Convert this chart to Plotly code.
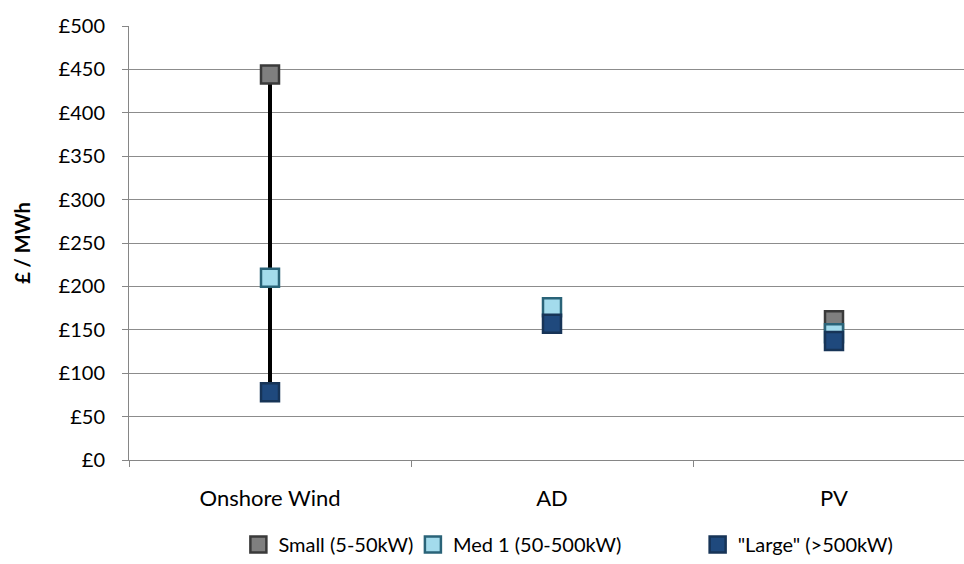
import plotly.graph_objects as go

# Levelised cost by technology and installation size (£/MWh)
technologies = ["Onshore Wind", "AD", "PV"]
small = [444, None, 161]
med1 = [210, 176, 146]
large = [78, 157, 137]

series_names = ["Small (5-50kW)", "Med 1 (50-500kW)", "\"Large\" (>500kW)"]
fill_colors = ["#7f7f7f", "#a3dbec", "#1f497d"]
edge_colors = ["#3a3a3a", "#2a6378", "#173457"]

y_ticks = list(range(0, 501, 50))

FONT = "Lato, Carlito, Calibri, sans-serif"
x_pos = list(range(len(technologies)))

fig = go.Figure()

# High-low line joining the extremes of each technology
hl_x, hl_y = [], []
for i in x_pos:
    vals = [s[i] for s in (small, med1, large) if s[i] is not None]
    hl_x += [i, i, None]
    hl_y += [max(vals), min(vals), None]
fig.add_trace(go.Scatter(x=hl_x, y=hl_y, mode="lines",
                         line=dict(color="black", width=4),
                         showlegend=False, hoverinfo="skip"))

legend_ids = ["legend", "legend2", "legend3"]
for name, vals, fc, ec, lg in zip(series_names, (small, med1, large),
                                  fill_colors, edge_colors, legend_ids):
    fig.add_trace(go.Scatter(
        x=x_pos, y=vals, mode="markers", name=name, legend=lg,
        marker=dict(symbol="square", size=18, color=fc,
                    line=dict(color=ec, width=2.5)),
    ))

span = 835 / 282.0
x_range = [-0.5, -0.5 + span]

# One legend box per series so each entry sits in its own column
legend_x = [0.131, 0.340, 0.681]
legend_common = dict(orientation="h", xanchor="left", y=-0.195, yanchor="middle",
                     font=dict(family=FONT, size=20), itemclick=False,
                     bgcolor="rgba(0,0,0,0)")

fig.update_layout(
    width=964, height=564,
    margin=dict(l=129, r=0, t=26, b=103),
    paper_bgcolor="white", plot_bgcolor="white",
    font=dict(family=FONT, size=21, color="black"),
    showlegend=True,
    legend=dict(x=legend_x[0], **legend_common),
    legend2=dict(x=legend_x[1], **legend_common),
    legend3=dict(x=legend_x[2], **legend_common),
    xaxis=dict(range=x_range, tickvals=[-0.5, 0.5, 1.5], ticktext=["", "", ""],
               ticks="outside", ticklen=6, tickcolor="#868686", tickwidth=1,
               showline=True, linecolor="#868686", linewidth=1,
               showgrid=False, zeroline=False, fixedrange=True),
    xaxis2=dict(range=x_range, overlaying="x", side="bottom",
                tickvals=x_pos, ticktext=technologies, ticks="",
                ticklabelstandoff=23,
                showline=False, showgrid=False, zeroline=False,
                tickfont=dict(family=FONT, size=22)),
    yaxis=dict(range=[0, 500], tickvals=y_ticks, ticktext=[f"£{v}" for v in y_ticks],
               ticks="outside", ticklen=6, tickcolor="#868686", tickwidth=1,
               showline=True, linecolor="#868686", linewidth=1,
               showgrid=True, gridcolor="#8c8c8c", gridwidth=1, zeroline=False,
               ticklabelstandoff=13, tickfont=dict(family=FONT, size=20),
               title=dict(text="<b>£ / MWh</b>", font=dict(family=FONT, size=20), standoff=22)),
)

# Invisible trace to carry the category label axis
fig.add_trace(go.Scatter(x=x_pos, y=[None] * len(x_pos), xaxis="x2",
                         showlegend=False, hoverinfo="skip"))

fig.write_html("out.html")
